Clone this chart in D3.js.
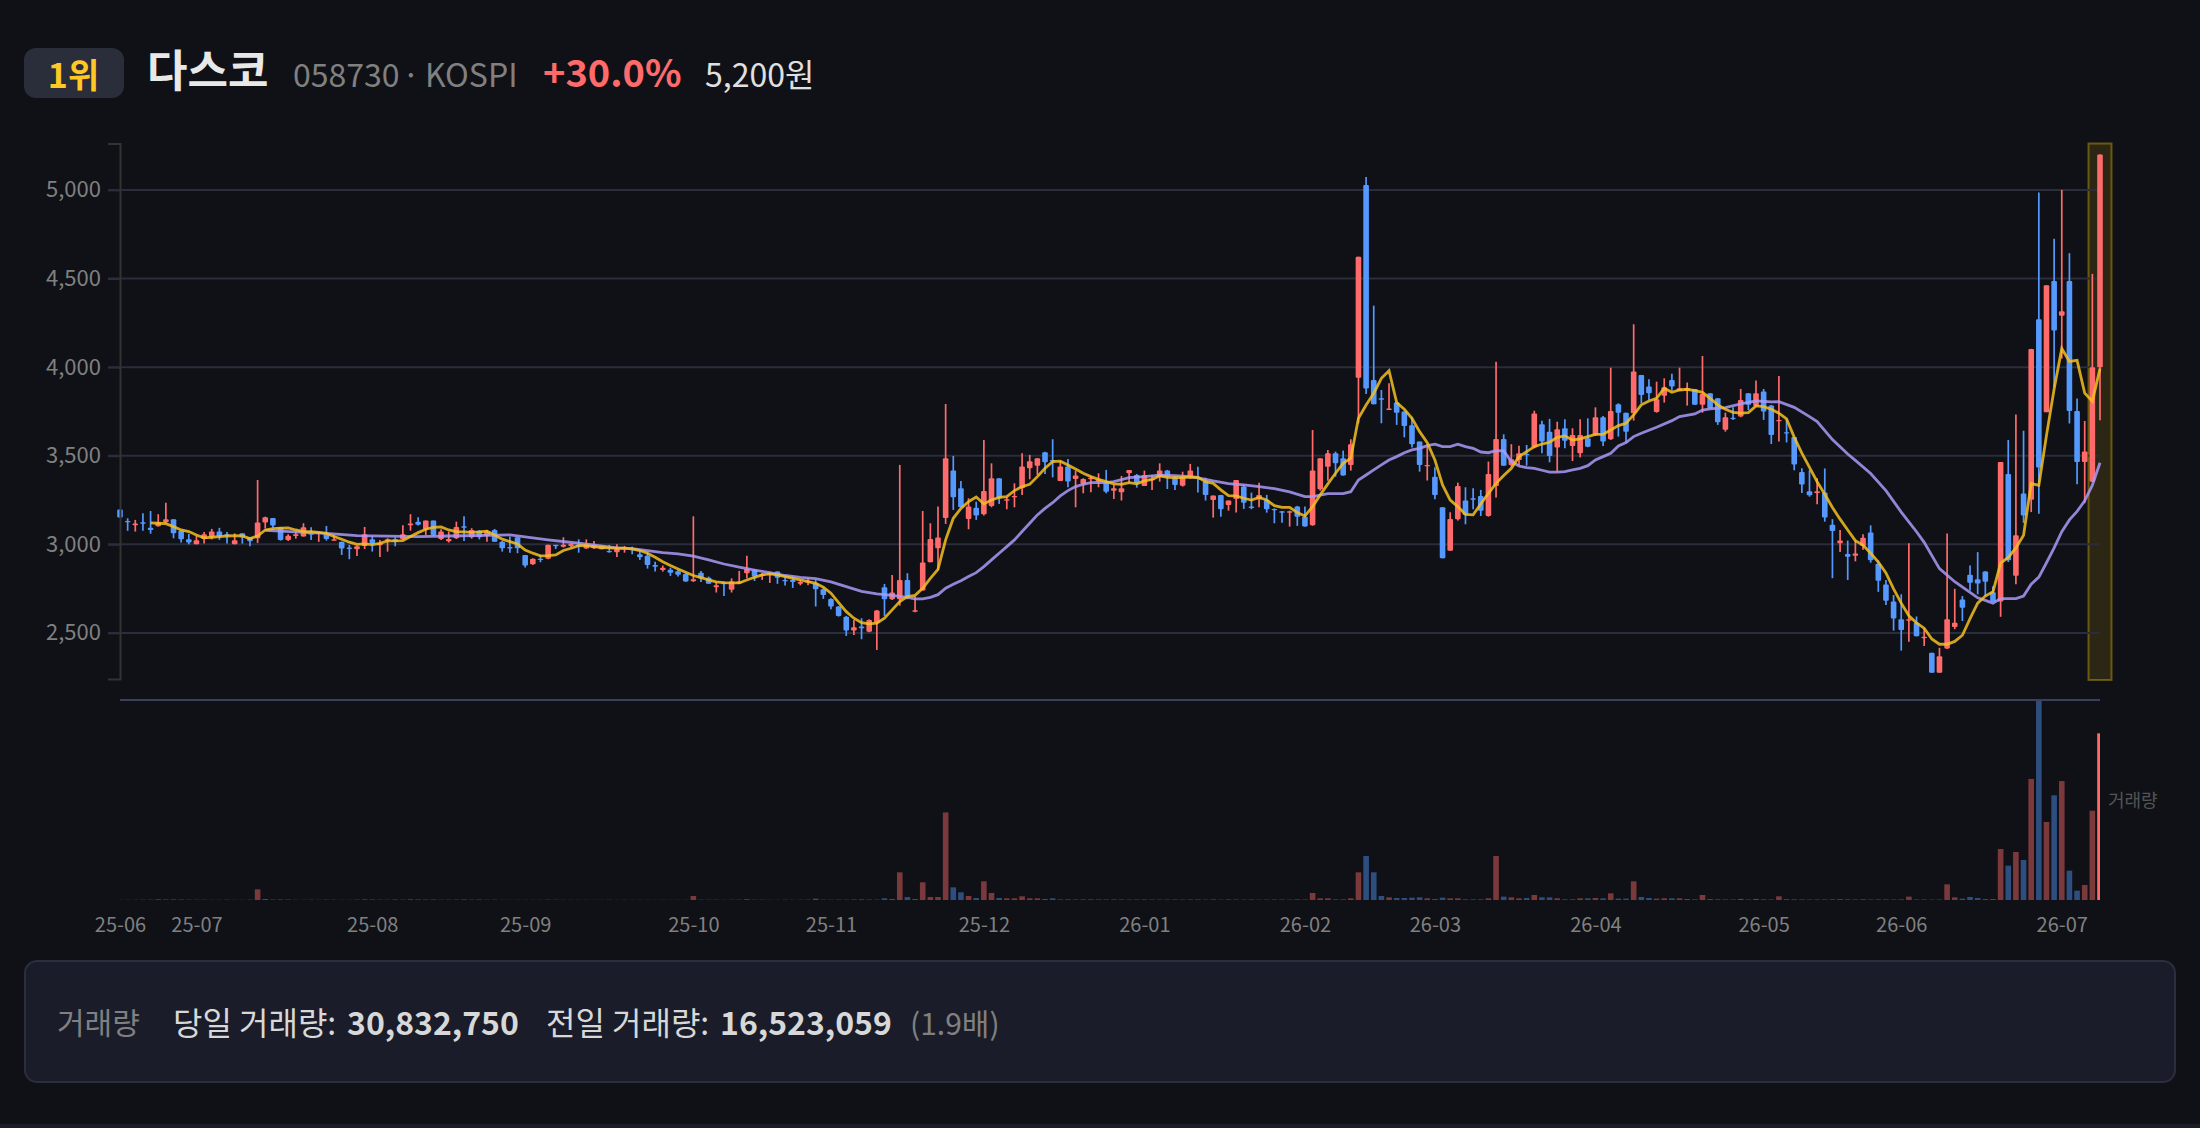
<!DOCTYPE html>
<html>
<head>
<meta charset="utf-8">
<script src="https://cdn.jsdelivr.net/npm/d3@7/dist/d3.min.js"></script>
<style>
  html, body { margin: 0; padding: 0; background: #0f1117; }
  text { font-family: "Noto Sans CJK KR", "Noto Sans", sans-serif; }
</style>
</head>
<body>
<div id="vis-container"></div>
<script>
// one row per trading day: open, high, low, close
const candles = [
[3197,3197,3151,3151],[3132,3147,3076,3125],[3108,3138,3072,3117],[3124,3175,3076,3117],[3094,3188,3060,3081],
[3102,3170,3100,3123],[3124,3234,3119,3141],[3141,3141,3034,3062],[3077,3077,3010,3028],[3028,3059,3000,3010],
[3000,3047,3000,3023],[3030,3070,3004,3057],[3040,3087,3028,3072],[3072,3093,3025,3044],[3057,3070,3004,3053],
[3000,3062,3000,3023],[3062,3062,3004,3040],[3040,3040,2989,3017],[3034,3363,3008,3123],[3123,3156,3089,3153],
[3149,3149,3093,3106],[3096,3096,3021,3025],[3025,3057,3019,3049],[3047,3072,3032,3057],[3044,3119,3044,3096],
[3062,3096,3025,3055],[3062,3072,3014,3070],[3057,3104,3021,3030],[3023,3053,3021,3028],[3015,3015,2940,2976],
[2982,2997,2916,2974],[2972,2993,2934,2989],[2991,3098,2974,3057],[3028,3044,2959,3006],[2995,3025,2929,3006],
[3021,3034,2959,3028],[3028,3040,2989,3015],[3028,3108,3025,3057],[3108,3170,3077,3117],[3128,3153,3106,3110],
[3085,3134,3053,3134],[3134,3134,3047,3053],[3030,3085,3025,3072],[3017,3072,3010,3030],[3034,3128,3030,3098],
[3102,3158,3019,3094],[3040,3091,3032,3081],[3077,3081,3028,3040],[3047,3081,3014,3072],[3081,3087,3014,3015],
[3015,3019,2959,2978],[2985,3044,2953,2978],[3040,3040,2950,2978],[2940,2940,2869,2880],[2887,2921,2884,2919],
[2919,2940,2899,2912],[2919,2997,2916,2997],[2997,2997,2974,2991],[2987,3040,2982,2997],[2991,3006,2982,3002],
[2997,3028,2953,2991],[2976,3028,2974,3002],[2978,3019,2974,2997],[2972,2995,2972,2993],[2963,2997,2953,2955],
[2955,3000,2929,2974],[2974,2991,2953,2983],[2974,2987,2944,2968],[2944,2959,2912,2927],[2935,2953,2863,2884],
[2884,2901,2846,2874],[2855,2880,2846,2868],[2857,2868,2822,2840],[2848,2855,2818,2829],[2833,2837,2788,2790],
[2792,3158,2788,2803],[2839,2850,2788,2809],[2812,2818,2777,2778],[2758,2786,2728,2769],[2784,2790,2709,2775],
[2743,2808,2728,2790],[2780,2850,2777,2790],[2837,2935,2808,2861],[2855,2859,2793,2818],[2823,2840,2799,2833],
[2831,2837,2782,2837],[2846,2848,2777,2812],[2799,2814,2767,2792],[2799,2818,2754,2788],[2777,2799,2769,2788],
[2784,2808,2769,2795],[2780,2799,2649,2746],[2746,2752,2692,2714],[2692,2695,2634,2649],[2649,2652,2592,2596],
[2592,2596,2483,2513],[2513,2573,2489,2532],[2536,2583,2464,2526],[2506,2577,2504,2573],[2558,2630,2404,2626],
[2758,2776,2596,2690],[2690,2827,2686,2728],[2690,3448,2654,2799],[2799,2837,2690,2705],[2620,2705,2617,2628],
[2739,3188,2739,2897],[2899,3119,2899,3030],[2978,3213,2855,3038],[3149,3792,3115,3486],[3416,3499,3194,3266],
[3316,3358,3209,3209],[3143,3260,3085,3213],[3207,3241,3138,3162],[3170,3589,3162,3301],[3217,3457,3209,3373],
[3373,3373,3228,3260],[3247,3266,3198,3254],[3266,3344,3209,3273],[3316,3514,3279,3439],[3429,3505,3367,3469],
[3444,3486,3392,3486],[3519,3523,3397,3463],[3476,3593,3378,3470],[3358,3470,3358,3439],[3439,3482,3322,3354],
[3369,3416,3209,3388],[3341,3373,3288,3369],[3367,3386,3294,3376],[3354,3401,3322,3367],[3354,3420,3288,3297],
[3303,3335,3256,3316],[3294,3386,3247,3316],[3401,3420,3344,3420],[3391,3397,3320,3344],[3329,3416,3329,3391],
[3361,3391,3307,3369],[3382,3457,3354,3416],[3416,3420,3312,3382],[3378,3386,3307,3335],[3331,3410,3326,3382],
[3382,3454,3370,3416],[3382,3438,3292,3373],[3354,3376,3247,3279],[3250,3275,3151,3275],[3279,3279,3156,3198],
[3222,3247,3190,3247],[3256,3363,3179,3363],[3326,3335,3200,3235],[3213,3292,3198,3205],[3254,3348,3209,3279],
[3250,3279,3179,3198],[3200,3203,3119,3194],[3186,3188,3122,3181],[3179,3190,3100,3186],[3213,3217,3104,3156],
[3156,3213,3100,3100],[3107,3645,3105,3416],[3311,3486,3303,3486],[3438,3533,3359,3514],[3514,3523,3382,3457],
[3486,3529,3388,3388],[3448,3593,3416,3565],[3940,4623,3683,4623],[5028,5073,3849,3880],[3928,4347,3790,3790],
[3824,3871,3683,3818],[3758,3909,3758,3766],[3800,3800,3674,3743],[3749,3749,3604,3668],[3672,3720,3546,3565],
[3580,3580,3410,3448],[3440,3561,3360,3448],[3382,3435,3254,3279],[3209,3209,2921,2921],[2964,3181,2964,3143],
[3141,3348,3134,3329],[3247,3322,3113,3166],[3260,3316,3198,3254],[3273,3307,3160,3190],[3160,3467,3156,3397],
[3329,4031,3264,3595],[3595,3621,3444,3444],[3448,3565,3440,3480],[3476,3557,3448,3514],[3510,3561,3444,3504],
[3548,3754,3542,3739],[3677,3698,3514,3580],[3636,3708,3463,3499],[3546,3692,3410,3649],[3655,3706,3542,3585],
[3555,3655,3470,3617],[3514,3706,3491,3617],[3598,3711,3548,3551],[3617,3773,3612,3717],[3717,3724,3555,3580],
[3593,3997,3589,3753],[3790,3796,3608,3743],[3743,3743,3574,3636],[3740,4242,3698,3975],[3956,3956,3796,3843],
[3890,3931,3815,3852],[3747,3918,3743,3819],[3839,3937,3800,3886],[3928,3962,3867,3890],[3867,3997,3867,3881],
[3867,3913,3783,3881],[3877,3877,3787,3787],[3787,4063,3743,3849],[3853,3853,3768,3768],[3824,3824,3674,3689],
[3646,3743,3636,3717],[3715,3773,3702,3708],[3721,3877,3717,3815],[3853,3853,3758,3787],[3781,3924,3777,3853],
[3862,3877,3702,3749],[3783,3787,3566,3617],[3696,3950,3580,3702],[3633,3706,3575,3625],[3605,3605,3418,3450],
[3408,3430,3289,3337],[3299,3418,3269,3277],[3289,3373,3226,3299],[3293,3428,3128,3152],[3111,3142,2809,3075],
[3006,3081,2956,3021],[2946,3021,2799,2930],[2936,3021,2904,2948],[2991,3057,2970,3037],[3067,3107,2896,2910],
[2890,2910,2732,2795],[2773,2799,2658,2682],[2678,2714,2513,2581],[2577,2718,2400,2517],[2569,3006,2450,2577],
[2557,2593,2481,2481],[2470,2527,2426,2478],[2388,2388,2275,2275],[2275,2416,2275,2368],[2412,3061,2410,2577],
[2533,2749,2521,2557],[2688,2708,2567,2642],[2829,2880,2739,2783],[2803,2956,2718,2779],[2847,2849,2708,2789],
[2729,2763,2678,2678],[2678,3464,2591,3464],[3397,3589,2900,2910],[2823,3732,2775,3051],[3287,3641,3121,3162],
[3252,4103,3182,4103],[4270,4986,3172,3434],[3746,4462,3746,4462],[4486,4724,3887,4206],[4290,5000,4048,4315],
[4486,4643,3682,3752],[3752,3823,3339,3464],[3464,3696,3232,3524],[3353,4526,3353,4000],[4000,5200,3700,5200]
];

const volumes = [
50000,40000,40000,50000,60000,120000,90000,110000,80000,60000,
50000,50000,40000,40000,50000,40000,40000,60000,1970000,180000,
90000,100000,80000,40000,40000,50000,40000,60000,50000,40000,
40000,60000,110000,90000,60000,50000,90000,60000,120000,100000,
80000,90000,50000,60000,70000,100000,60000,90000,50000,60000,
40000,30000,40000,30000,30000,40000,60000,50000,40000,30000,
30000,40000,30000,40000,50000,30000,40000,30000,40000,30000,
30000,40000,30000,30000,40000,740000,60000,50000,50000,40000,
50000,60000,130000,60000,50000,40000,40000,50000,40000,50000,
60000,250000,60000,50000,70000,60000,90000,120000,80000,70000,
310000,190000,5120000,550000,180000,3270000,550000,550000,16200000,2340000,
1420000,740000,370000,3450000,1300000,370000,310000,310000,680000,310000,
310000,190000,310000,100000,120000,90000,100000,110000,100000,90000,
100000,90000,80000,90000,100000,80000,70000,80000,90000,80000,
90000,100000,70000,100000,60000,100000,80000,70000,90000,60000,
70000,90000,80000,70000,120000,90000,1300000,310000,310000,120000,
120000,310000,5120000,8140000,5120000,740000,490000,370000,370000,430000,
490000,310000,180000,430000,310000,310000,120000,120000,120000,310000,
8140000,620000,490000,310000,370000,930000,490000,490000,310000,120000,
120000,310000,310000,370000,310000,1230000,250000,250000,3450000,550000,
370000,250000,310000,310000,310000,180000,120000,930000,180000,120000,
100000,90000,200000,90000,200000,120000,100000,680000,150000,120000,
100000,90000,90000,100000,120000,150000,110000,100000,120000,90000,
110000,100000,90000,120000,620000,100000,90000,70000,80000,2900000,
490000,250000,550000,370000,180000,180000,9440000,6350000,8880000,7400000,
22400000,37000000,14430000,19370000,22000000,5430000,1730000,2780000,16523059,30832750
];

// 5 day average, one value per day from day 4 on
const ma5Start = 4;
const ma5 = [
3121,3119,3117,3100,3081,3072,3053,3036,3040,3044,3047,3049,3047,3032,3047,3081,3089,3091,3093,3081,
3072,3072,3068,3062,3044,3029,3012,3000,3002,2998,3006,3019,3019,3021,3044,3066,3085,3096,3098,3081,
3072,3070,3068,3070,3074,3053,3029,3015,3002,2968,2950,2935,2936,2940,2965,2978,2993,2993,2987,2982,
2980,2978,2978,2974,2965,2950,2927,2902,2880,2861,2842,2824,2812,2799,2788,2784,2782,2782,2799,2814,
2827,2833,2827,2818,2808,2799,2790,2780,2758,2724,2671,2620,2583,2558,2551,2555,2583,2630,2677,2705,
2712,2752,2808,2859,3025,3147,3203,3241,3267,3228,3250,3265,3269,3303,3326,3339,3382,3429,3467,3469,
3448,3425,3401,3382,3367,3354,3341,3339,3348,3341,3358,3367,3386,3378,3376,3376,3380,3378,3354,3344,
3307,3275,3273,3260,3250,3265,3250,3218,3209,3209,3179,3160,3213,3279,3341,3401,3457,3486,3711,3786,
3852,3937,3980,3800,3762,3711,3636,3574,3476,3335,3250,3213,3169,3166,3228,3288,3344,3388,3429,3495,
3523,3551,3566,3576,3604,3612,3589,3595,3608,3621,3621,3645,3670,3683,3730,3787,3809,3824,3881,3858,
3871,3875,3868,3858,3824,3787,3762,3745,3740,3743,3781,3777,3762,3740,3708,3605,3515,3434,3353,3283,
3208,3142,3081,3021,2996,2950,2900,2839,2749,2668,2597,2557,2527,2466,2436,2436,2452,2487,2581,2668,
2708,2732,2894,2926,2980,3051,3343,3333,3615,3877,4105,4032,4038,3853,3807,3992
];

// 20 day average
const ma20Days = [
19,21,24,27,31,35,39,43,48,51,56,60,65,67,69,71,73,75,77,79,81,83,85,87,89,91,93,95,97,99,101,103,104,105,
106,107,108,109,110,111,112,113,114,115,116,117,118,119,120,121,122,123,124,125,126,127,128,129,130,132,134,
136,138,140,141,143,145,147,149,151,153,155,156,158,160,161,162,163,164,165,166,167,168,169,170,171,172,173,
174,175,176,177,178,179,180,181,182,183,184,185,186,187,188,189,190,191,192,193,194,195,196,197,198,199,201,
203,204,206,207,208,210,212,214,216,217,219,221,222,224,226,227,229,231,233,235,236,238,240,242,243,244,245,
246,248,249,250,251,252,253,254,255,256,257,258,259
];
const ma20 = [
3079,3074,3068,3062,3049,3046,3044,3047,3051,3053,3025,3006,2980,2976,2965,2953,2946,2934,2912,2889,2871,2855,
2840,2824,2814,2807,2788,2761,2735,2720,2712,2701,2692,2692,
2701,2716,2752,2775,2795,2818,2840,2874,2912,2950,2987,3025,3072,3119,3166,3203,3235,3273,3303,3326,3339,3348,
3350,3348,3354,3376,3382,
3391,3388,3382,3375,3358,3343,3335,3326,3314,3296,3269,3269,3286,3286,3297,3363,3391,3420,3448,3476,3495,3517,
3533,3542,3557,3565,3551,
3551,3565,3551,3542,3521,3517,3529,3527,3467,3442,3433,3429,3418,3408,3408,3410,3420,3429,3444,3476,3495,3514,
3555,3574,3608,3627,3661,
3698,3721,3736,3758,3764,3772,3792,3809,3804,3805,3773,3721,3693,3591,3510,3474,3400,3303,3182,3071,3011,2863,
2789,2729,2698,2684,2668,
2694,2694,2708,2775,2815,2896,2980,3071,3138,3186,3246,3333,3460
];

const priceTicks = [2500, 3000, 3500, 4000, 4500, 5000];
const monthDays = [0, 10, 33, 53, 75, 93, 113, 134, 155, 172, 193, 215, 233, 254];
const monthLabels = ["25-06","25-07","25-08","25-09","25-10","25-11","25-12","26-01","26-02","26-03","26-04","26-05","26-06","26-07"];

const stockName = "다스코", stockCode = "058730", stockMarket = "· KOSPI", rankLabel = "1위";
const changePct = 30.0;

const up = "#ff6b6b", down = "#5599ff";
const last = candles.length - 1;
const lastClose = candles[last][3];

const svg = d3.select("#vis-container").append("svg")
    .attr("width", 2200).attr("height", 1128)
    .style("display", "block");

const x = d3.scaleLinear().domain([0, last]).range([120, 2100]);
const y = d3.scaleLinear().domain([2240, 5262]).range([679, 143.5]);
const yVol = d3.scaleLinear().domain([0, d3.max(volumes)]).range([900, 700]);

// header
svg.append("rect").attr("x", 24).attr("y", 48).attr("width", 100).attr("height", 50).attr("rx", 12).attr("fill", "#2a2d3a");
function label(px, py, txt, size, weight, color, anchor) {
    return svg.append("text").attr("x", px).attr("y", py).attr("font-size", size)
        .attr("font-weight", weight).attr("fill", color).attr("text-anchor", anchor || "start").text(txt);
}
label(73.5, 88, rankLabel, 34, 700, "#ffc824", "middle");
label(147, 87, stockName, 44, 700, "#e8e8e8");
label(293, 87, stockCode, 32, 400, "#808080");
label(402, 87, stockMarket, 32, 400, "#808080").attr("word-spacing", -2);
label(543, 87, "+" + changePct.toFixed(1) + "%", 38, 700, "#ff6b6b");
label(705, 87, d3.format(",")(lastClose) + "원", 32, 400, "#e0e0e0");

// highlight on the latest day
svg.append("rect").attr("x", x(last) - 11.5).attr("y", 143.5).attr("width", 23).attr("height", 536.5)
    .attr("fill", "rgba(255,204,0,0.12)").attr("stroke", "rgba(255,204,0,0.35)").attr("stroke-width", 2);

// grid
svg.append("g").selectAll("line").data(priceTicks).join("line")
    .attr("x1", 108).attr("x2", 2100).attr("y1", d => y(d)).attr("y2", d => y(d))
    .attr("stroke", "#2a2d3a").attr("stroke-width", 2);

// candles
const g = svg.append("g").selectAll("g").data(candles).join("g");
g.append("line")
    .attr("x1", (d, i) => x(i)).attr("x2", (d, i) => x(i))
    .attr("y1", d => y(d[1])).attr("y2", d => y(d[2]))
    .attr("stroke", d => d[3] >= d[0] ? up : down).attr("stroke-width", 1.7);
g.append("rect")
    .attr("x", (d, i) => x(i) - 2.8).attr("width", 5.6)
    .attr("y", d => y(Math.max(d[0], d[3])))
    .attr("height", d => Math.max(1.4, Math.abs(y(d[0]) - y(d[3]))))
    .attr("rx", 1)
    .attr("fill", d => d[3] >= d[0] ? up : down);

// moving averages
const lineFrom = d3.line().x(d => x(d[0])).y(d => y(d[1]));
svg.append("path").datum(ma20.map((v, i) => [ma20Days[i], v])).attr("d", lineFrom)
    .attr("fill", "none").attr("stroke", "#aa9af8").attr("stroke-width", 2.8).attr("opacity", 0.85);
svg.append("path").datum(ma5.map((v, i) => [ma5Start + i, v])).attr("d", lineFrom)
    .attr("fill", "none").attr("stroke", "#f5c020").attr("stroke-width", 2.8).attr("opacity", 0.85);

// price axis
const yAxis = svg.append("g").attr("transform", "translate(120,0)")
    .call(d3.axisLeft(y).tickValues(priceTicks).tickFormat(d3.format(",")).tickSize(12).tickPadding(7));
yAxis.selectAll("text").attr("font-size", 22).attr("fill", "#808080").style("font-family", '"Noto Sans CJK KR"');
yAxis.selectAll("line").attr("stroke", "#2a2d3a").attr("stroke-width", 2);
yAxis.select(".domain").attr("stroke", "#333").attr("stroke-width", 2);

// volume
svg.append("clipPath").attr("id", "vol-clip").append("rect")
    .attr("x", 120).attr("y", 700).attr("width", 1980).attr("height", 200);
svg.append("g").attr("clip-path", "url(#vol-clip)").selectAll("rect").data(volumes).join("rect")
    .attr("x", (d, i) => x(i) - 2.8).attr("width", 5.6)
    .attr("y", d => yVol(d)).attr("height", d => 900 - yVol(d))
    .attr("fill", (d, i) => candles[i][3] >= candles[i][0] ? up : down)
    .attr("opacity", (d, i) => i === last ? 1 : 0.45);
svg.append("line").attr("x1", 120).attr("x2", 2100).attr("y1", 700).attr("y2", 700)
    .attr("stroke", "#3a3f5c").attr("stroke-width", 2);
label(2108, 807, "거래량", 18, 400, "#555");

// months
const xAxis = svg.append("g").attr("transform", "translate(0,900)")
    .call(d3.axisBottom(x).tickValues(monthDays).tickFormat((d, i) => monthLabels[i]).tickSize(0).tickPadding(18));
xAxis.select(".domain").remove();
xAxis.selectAll("text").attr("font-size", 20).attr("fill", "#808080").style("font-family", '"Noto Sans CJK KR"');

// volume card
svg.append("rect").attr("x", 25).attr("y", 961).attr("width", 2150).attr("height", 121).attr("rx", 12)
    .attr("fill", "#1a1d29").attr("stroke", "#2a2e3e").attr("stroke-width", 2);
const todayVol = volumes[last], prevVol = volumes[last - 1];
label(57, 1034, "거래량", 30, 400, "#808080");
label(173, 1035, "당일 거래량:", 32, 400, "#d8d8d8");
label(347, 1035, d3.format(",")(todayVol), 32, 700, "#d8d8d8");
label(546, 1035, "전일 거래량:", 32, 400, "#d8d8d8");
label(720, 1035, d3.format(",")(prevVol), 32, 700, "#d8d8d8");
label(910, 1035, "(" + (todayVol / prevVol).toFixed(1) + "배)", 30, 400, "#808080");

// bottom edge of the page
svg.append("rect").attr("x", 0).attr("y", 1124).attr("width", 2200).attr("height", 4).attr("fill", "#1a1d29");
</script>
</body>
</html>
